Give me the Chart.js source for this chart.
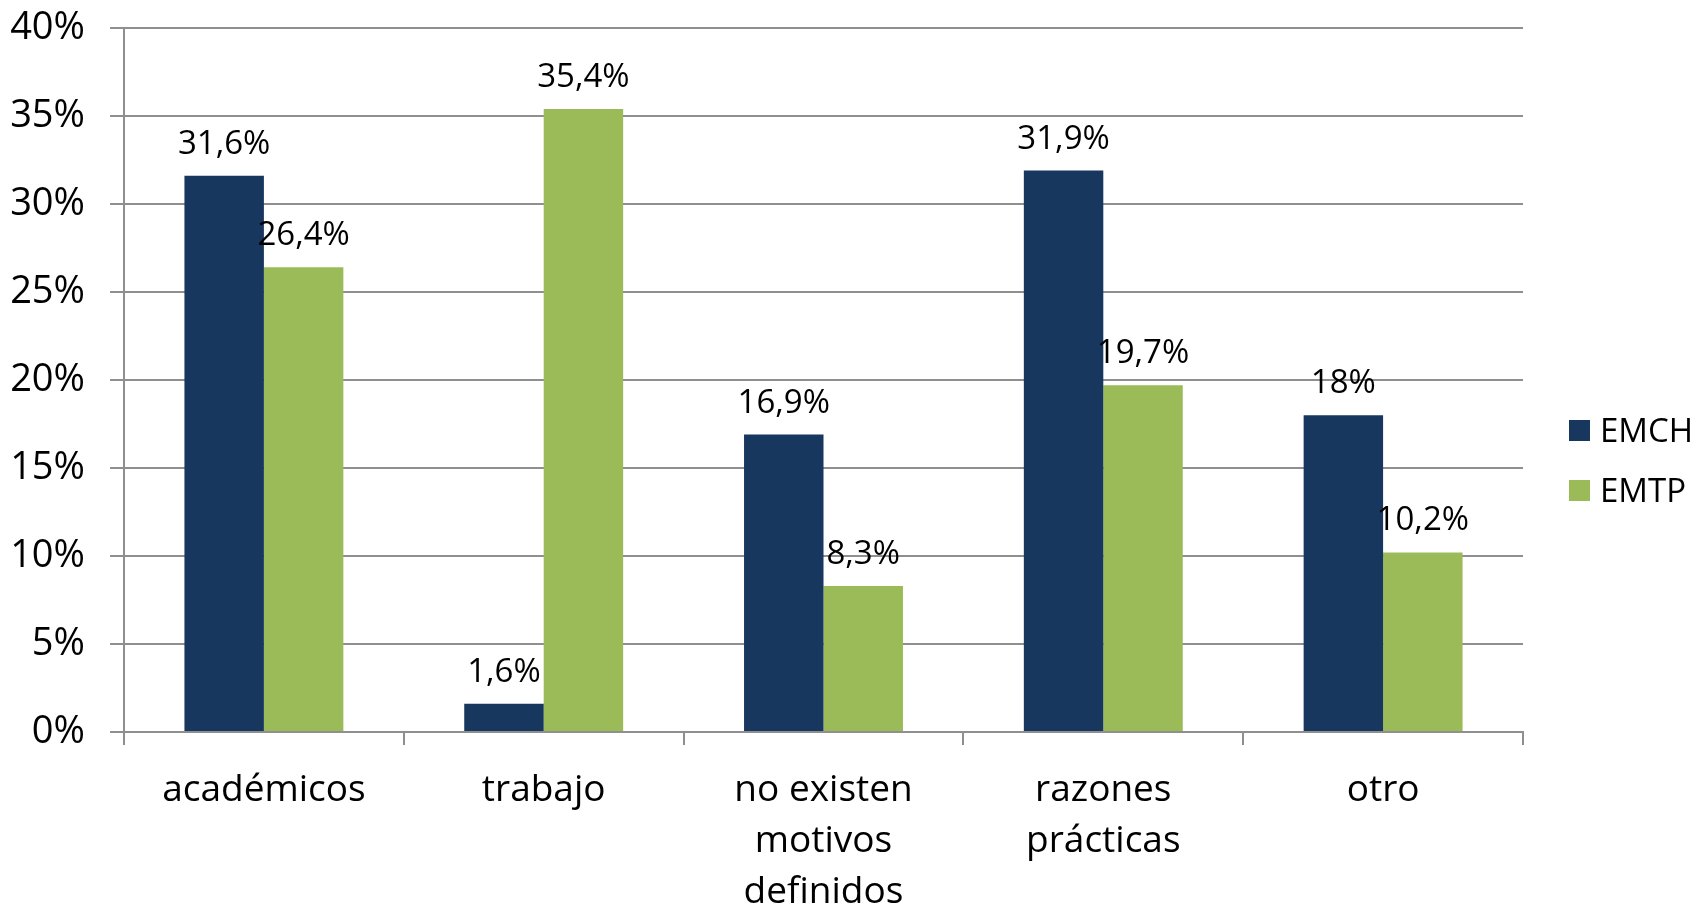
<!DOCTYPE html>
<html>
<head>
<meta charset="utf-8">
<script src="https://cdn.jsdelivr.net/npm/chart.js@4/dist/chart.umd.min.js"></script>
<style>
  html, body { margin: 0; padding: 0; background: #fff; }
  #wrap { width: 1696px; height: 907px; }
</style>
</head>
<body>
<div id="wrap"><canvas id="barChart" width="1696" height="907"></canvas></div>
<script>
const categories = ["académicos", "trabajo", ["no existen", "motivos", "definidos"], ["razones", "prácticas"], "otro"];
const emchValues = [31.6, 1.6, 16.9, 31.9, 18];
const emtpValues = [26.4, 35.4, 8.3, 19.7, 10.2];
const seriesNames = ["EMCH", "EMTP"];
const yTicks = [0, 5, 10, 15, 20, 25, 30, 35, 40];

const FONT = "'Open Sans', 'DejaVu Sans', sans-serif";
const GRID = "#8f8f8f";

function fmt(v) {
  return String(v).replace(".", ",") + "%";
}

// value labels above each bar
const barLabels = {
  id: "barLabels",
  afterDatasetsDraw(chart) {
    const ctx = chart.ctx;
    ctx.save();
    ctx.font = "33px " + FONT;
    ctx.fillStyle = "#000";
    ctx.textAlign = "center";
    ctx.textBaseline = "alphabetic";
    chart.data.datasets.forEach((ds, i) => {
      chart.getDatasetMeta(i).data.forEach((bar, j) => {
        ctx.fillText(fmt(ds.data[j]), bar.x, bar.y - 22);
      });
    });
    ctx.restore();
  },
};

// legend on the right
const sideLegend = {
  id: "sideLegend",
  afterDraw(chart) {
    const ctx = chart.ctx;
    ctx.save();
    ctx.font = "33px " + FONT;
    ctx.textAlign = "left";
    ctx.textBaseline = "alphabetic";
    chart.data.datasets.forEach((ds, i) => {
      const top = 420 + i * 60;
      ctx.fillStyle = ds.backgroundColor;
      ctx.fillRect(1569, top, 21, 21);
      ctx.fillStyle = "#000";
      ctx.fillText(ds.label, 1600, top + 22);
    });
    ctx.restore();
  },
};

const ctx = document.getElementById("barChart").getContext("2d");
window.chartBar = new Chart(ctx, {
  type: "bar",
  data: {
    labels: categories,
    datasets: [
      {
        label: seriesNames[0],
        data: emchValues,
        backgroundColor: "#17375E",
        categoryPercentage: 0.568,
        barPercentage: 1.0,
      },
      {
        label: seriesNames[1],
        data: emtpValues,
        backgroundColor: "#9BBB59",
        categoryPercentage: 0.568,
        barPercentage: 1.0,
      },
    ],
  },
  options: {
    responsive: false,
    animation: false,
    layout: { padding: { top: 28, right: 173, bottom: 0, left: 0 } },
    plugins: {
      legend: { display: false },
      tooltip: { enabled: false },
    },
    scales: {
      x: {
        grid: {
          drawOnChartArea: false,
          tickLength: 13,
          color: GRID,
          lineWidth: 2,
        },
        border: { color: GRID, width: 2 },
        ticks: {
          color: "#000",
          font: { family: FONT, size: 37, lineHeight: 1.38 },
          padding: 20,
          maxRotation: 0,
          autoSkip: false,
        },
        afterFit(scale) {
          scale.height = 175;
          scale.paddingLeft = 0;
          scale.paddingRight = 0;
        },
      },
      y: {
        min: 0,
        max: 40,
        afterBuildTicks(scale) {
          scale.ticks = yTicks.map((v) => ({ value: v }));
        },
        grid: {
          tickLength: 14,
          color: GRID,
          lineWidth: 2,
        },
        border: { color: GRID, width: 2 },
        ticks: {
          color: "#000",
          font: { family: FONT, size: 38 },
          padding: 25,
          callback: (v) => v + "%",
        },
        afterFit(scale) {
          scale.width = 124;
          scale.paddingTop = 0;
          scale.paddingBottom = 0;
        },
      },
    },
  },
  plugins: [barLabels, sideLegend],
});
</script>
</body>
</html>
